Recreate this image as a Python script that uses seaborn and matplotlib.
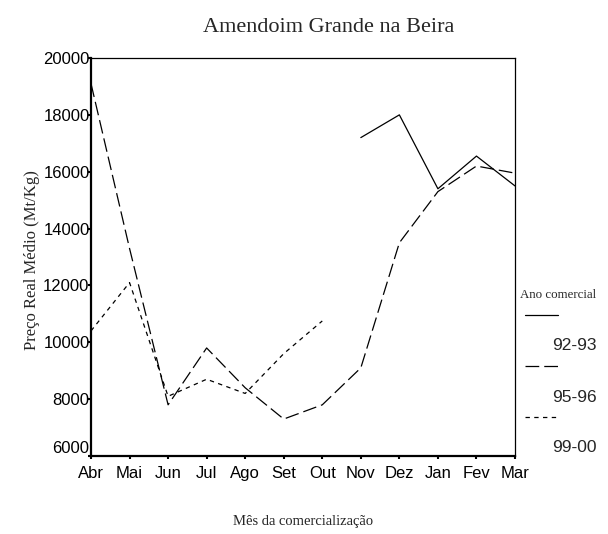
import pandas as pd
import matplotlib.pyplot as plt
import matplotlib.transforms as mtransforms
from matplotlib.lines import Line2D
import seaborn as sns

months = ["Abr", "Mai", "Jun", "Jul", "Ago", "Set", "Out", "Nov", "Dez", "Jan", "Fev", "Mar"]
seasons = ["92-93", "95-96", "99-00"]

# preço real médio por mês (None = sem dados)
p_92_93 = [None, None, None, None, None, None, None, 17200, 18000, 15400, 16550, 15500]
p_95_96 = [19100, 13300, 7800, 9800, 8400, 7300, 7800, 9100, 13500, 15300, 16200, 15950]
p_99_00 = [10400, 12100, 8100, 8700, 8200, 9600, 10750, None, None, None, None, None]

dash_styles = {"92-93": "", "95-96": (11, 4), "99-00": (3.5, 3.5)}


def build_frame():
    rows = []
    for season, values in zip(seasons, [p_92_93, p_95_96, p_99_00]):
        for i, v in enumerate(values):
            if v is not None:
                rows.append({"pos": i, "mes": months[i], "ano": season, "preco": v})
    return pd.DataFrame(rows)


def plot_chart(df):
    sns.set_style("white")
    fig = plt.figure(figsize=(6.08, 5.34), dpi=100)
    ax = fig.add_axes([91 / 608, 1 - 456 / 534, 424 / 608, 398 / 534])

    sns.lineplot(data=df, x="pos", y="preco", hue="ano", style="ano",
                 palette=["black"] * 3, dashes=dash_styles, linewidth=0.9,
                 legend=False, ax=ax)

    ax.set_xlim(0, len(months) - 1)
    ax.set_ylim(6000, 20000)
    ax.set_xticks(range(len(months)))
    ax.set_xticklabels(months, family="Liberation Sans", fontsize=12)
    ax.set_yticks(range(6000, 20001, 2000))
    ax.set_yticklabels([str(v) for v in range(6000, 20001, 2000)],
                       family="Liberation Sans", fontsize=12)
    ax.tick_params(axis="both", direction="out", length=2, width=1.5,
                   bottom=True, left=True, colors="black")
    ax.tick_params(axis="y", pad=-1)
    ax.tick_params(axis="x", pad=5)

    # o rótulo 6000 fica um pouco acima do eixo, como no original
    lbl = ax.get_yticklabels()[0]
    lbl.set_transform(lbl.get_transform() +
                      mtransforms.ScaledTranslation(0, 9 / 100, fig.dpi_scale_trans))

    for side in ["left", "bottom"]:
        ax.spines[side].set_linewidth(1.6)
        ax.spines[side].set_color("black")
    for side in ["top", "right"]:
        ax.spines[side].set_linewidth(0.9)
        ax.spines[side].set_color("black")

    ax.set_xlabel("")
    ax.set_ylabel("")
    fig.text(32 / 608, 1 - 260 / 534, "Preço Real Médio (Mt/Kg)",
             family="Liberation Serif", fontsize=12, rotation=90,
             ha="center", va="center")
    fig.text(329 / 608, 1 - 28 / 534, "Amendoim Grande na Beira",
             family="Liberation Serif", fontsize=16, ha="center", va="center")
    fig.text(303 / 608, 1 - 522 / 534, "Mês da comercialização",
             family="Liberation Serif", fontsize=10.5, ha="center", va="center")

    # legenda à direita: linha em cima, rótulo em baixo
    fig.text(520 / 608, 1 - 295 / 534, "Ano comercial",
             family="Liberation Serif", fontsize=9.3, ha="left", va="center")
    line_y = [315, 366, 417]
    for season, y in zip(seasons, line_y):
        ls = (0, dash_styles[season]) if dash_styles[season] else "-"
        fig.add_artist(Line2D([525 / 608, 558 / 608], [1 - y / 534, 1 - y / 534],
                              color="black", linewidth=0.9, linestyle=ls))
        fig.text(597 / 608, 1 - (y + 31) / 534, season, family="Liberation Sans",
                 fontsize=12.5, ha="right", va="center")

    fig.savefig("out.png", dpi=100)


if __name__ == "__main__":
    df = build_frame()
    plot_chart(df)
